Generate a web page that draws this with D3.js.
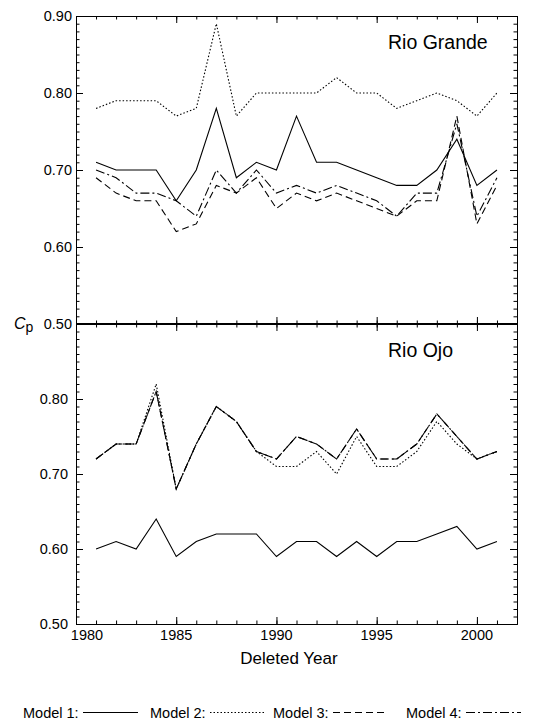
<!DOCTYPE html>
<html>
<head>
<meta charset="utf-8">
<script src="https://d3js.org/d3.v7.min.js"></script>
<style>
  body { margin: 0; background: #fff; }
  text { font-family: "Liberation Sans", Arial, sans-serif; fill: #000; }
</style>
</head>
<body>
<div id="chart"></div>
<script>
// deleted years (x) and axis ticks
var years = [1981, 1982, 1983, 1984, 1985, 1986, 1987, 1988, 1989, 1990, 1991,
             1992, 1993, 1994, 1995, 1996, 1997, 1998, 1999, 2000, 2001];
var xTickYears = [1980, 1985, 1990, 1995, 2000];
var yMajorTicks = [0.50, 0.60, 0.70, 0.80, 0.90];

// Rio Grande, Cp per model
var grandeModel1 = [0.71, 0.70, 0.70, 0.70, 0.66, 0.70, 0.78, 0.69, 0.71, 0.70, 0.77,
                    0.71, 0.71, 0.70, 0.69, 0.68, 0.68, 0.70, 0.74, 0.68, 0.70];
var grandeModel2 = [0.78, 0.79, 0.79, 0.79, 0.77, 0.78, 0.89, 0.77, 0.80, 0.80, 0.80,
                    0.80, 0.82, 0.80, 0.80, 0.78, 0.79, 0.80, 0.79, 0.77, 0.80];
var grandeModel3 = [0.69, 0.67, 0.66, 0.66, 0.62, 0.63, 0.68, 0.67, 0.69, 0.65, 0.67,
                    0.66, 0.67, 0.66, 0.65, 0.64, 0.66, 0.66, 0.77, 0.63, 0.68];
var grandeModel4 = [0.70, 0.69, 0.67, 0.67, 0.66, 0.64, 0.70, 0.67, 0.70, 0.67, 0.68,
                    0.67, 0.68, 0.67, 0.66, 0.64, 0.67, 0.67, 0.76, 0.64, 0.69];

// Rio Ojo, Cp per model
var ojoModel1 = [0.60, 0.61, 0.60, 0.64, 0.59, 0.61, 0.62, 0.62, 0.62, 0.59, 0.61,
                 0.61, 0.59, 0.61, 0.59, 0.61, 0.61, 0.62, 0.63, 0.60, 0.61];
var ojoModel2 = [0.72, 0.74, 0.74, 0.82, 0.68, 0.74, 0.79, 0.77, 0.73, 0.71, 0.71,
                 0.73, 0.70, 0.75, 0.71, 0.71, 0.73, 0.77, 0.74, 0.72, 0.73];
var ojoModel3 = [0.72, 0.74, 0.74, 0.81, 0.68, 0.74, 0.79, 0.77, 0.73, 0.72, 0.75,
                 0.74, 0.72, 0.76, 0.72, 0.72, 0.74, 0.78, 0.75, 0.72, 0.73];
var ojoModel4 = [0.72, 0.74, 0.74, 0.81, 0.68, 0.74, 0.79, 0.77, 0.73, 0.72, 0.75,
                 0.74, 0.72, 0.76, 0.72, 0.72, 0.74, 0.78, 0.75, 0.72, 0.73];

var modelNames = ["Model 1:", "Model 2:", "Model 3:", "Model 4:"];
var panelNames = ["Rio Grande", "Rio Ojo"];

// line styles for the four models
var dashes = [null, "1.5,2", "7,4", "9,3,2,3"];

var svg = d3.select("#chart").append("svg")
  .attr("width", 540)
  .attr("height", 722);

var left = 76, right = 517;
var x = d3.scaleLinear().domain([1980, 2002]).range([left, right]);

var panels = [
  { name: panelNames[0], top: 16, bottom: 324, labelPad: 4, series: [grandeModel1, grandeModel2, grandeModel3, grandeModel4] },
  { name: panelNames[1], top: 324, bottom: 624, labelPad: 8, series: [ojoModel1, ojoModel2, ojoModel3, ojoModel4] }
];

var allYears = d3.range(1980, 2003);
var minorY = d3.range(50, 91).map(d => d / 100);

panels.forEach(function(p, pi) {
  var y = d3.scaleLinear().domain([0.50, 0.90]).range([p.bottom, p.top]);

  // left axis, labels + inward ticks
  var labelTicks = pi === 0 ? yMajorTicks : yMajorTicks.slice(0, 4);
  svg.append("g")
    .attr("transform", `translate(${left},0)`)
    .call(d3.axisLeft(y).tickValues(yMajorTicks).tickSize(-7).tickSizeOuter(0).tickFormat(""));
  svg.append("g")
    .attr("transform", `translate(${left},0)`)
    .call(d3.axisLeft(y).tickValues(minorY).tickSize(-3.5).tickSizeOuter(0).tickFormat(""));
  var lab = svg.append("g")
    .attr("transform", `translate(${left},0)`)
    .call(d3.axisLeft(y).tickValues(labelTicks).tickSize(0).tickPadding(p.labelPad)
      .tickFormat(d3.format(".2f")));
  lab.select(".domain").remove();
  lab.selectAll("text").style("font-size", "14.5px").style("font-family", "'Liberation Sans', Arial, sans-serif");

  // right axis
  svg.append("g")
    .attr("transform", `translate(${right},0)`)
    .call(d3.axisRight(y).tickValues(yMajorTicks).tickSize(-7).tickSizeOuter(0).tickFormat(""));
  svg.append("g")
    .attr("transform", `translate(${right},0)`)
    .call(d3.axisRight(y).tickValues(minorY).tickSize(-3.5).tickSizeOuter(0).tickFormat(""));

  // top axis of the panel (ticks point down)
  svg.append("g")
    .attr("transform", `translate(0,${p.top})`)
    .call(d3.axisBottom(x).tickValues(xTickYears).tickSize(7).tickSizeOuter(0).tickFormat(""));
  svg.append("g")
    .attr("transform", `translate(0,${p.top})`)
    .call(d3.axisBottom(x).tickValues(allYears).tickSize(3.5).tickSizeOuter(0).tickFormat(""));

  // bottom axis of the panel (ticks point up)
  svg.append("g")
    .attr("transform", `translate(0,${p.bottom})`)
    .call(d3.axisTop(x).tickValues(xTickYears).tickSize(7).tickSizeOuter(0).tickFormat(""));
  svg.append("g")
    .attr("transform", `translate(0,${p.bottom})`)
    .call(d3.axisTop(x).tickValues(allYears).tickSize(3.5).tickSizeOuter(0).tickFormat(""));

  // model lines
  p.series.forEach(function(vals, i) {
    var line = d3.line()
      .x((d, j) => x(years[j]))
      .y(d => y(d));
    svg.append("path")
      .datum(vals)
      .attr("d", line)
      .attr("fill", "none")
      .attr("stroke", "#000")
      .attr("stroke-width", 1.1)
      .attr("stroke-dasharray", dashes[i]);
  });

  // panel title
  svg.append("text")
    .attr("x", 388)
    .attr("y", p.top + 33)
    .style("font-size", "19.5px")
    .text(p.name);
});

// thicker shared line between panels
svg.append("line")
  .attr("x1", left).attr("x2", right)
  .attr("y1", 324).attr("y2", 324)
  .attr("stroke", "#000")
  .attr("stroke-width", 2);

// x tick labels under the lower panel
svg.selectAll(".xlab")
  .data(xTickYears)
  .enter()
  .append("text")
  .attr("class", "xlab")
  .attr("x", d => d === 1980 ? x(d) + 11 : x(d))
  .attr("y", 640)
  .attr("text-anchor", "middle")
  .style("font-size", "14.5px")
  .text(d => d);

// axis titles
svg.append("text")
  .attr("x", 289)
  .attr("y", 664)
  .attr("text-anchor", "middle")
  .style("font-size", "17px")
  .text("Deleted Year");

var cp = svg.append("text")
  .attr("x", 14)
  .attr("y", 329)
  .style("font-size", "16px");
cp.append("tspan").style("font-style", "italic").text("C");
cp.append("tspan").attr("dy", 3).style("font-size", "14px").text("p");

// legend
var legendX = [23, 150, 273, 406];
modelNames.forEach(function(name, i) {
  svg.append("text")
    .attr("x", legendX[i])
    .attr("y", 718)
    .style("font-size", "14.5px")
    .text(name);
  svg.append("line")
    .attr("x1", legendX[i] + 60).attr("x2", legendX[i] + 115)
    .attr("y1", 712.5).attr("y2", 712.5)
    .attr("stroke", "#000")
    .attr("stroke-width", 1.1)
    .attr("stroke-dasharray", dashes[i]);
});
</script>
</body>
</html>
